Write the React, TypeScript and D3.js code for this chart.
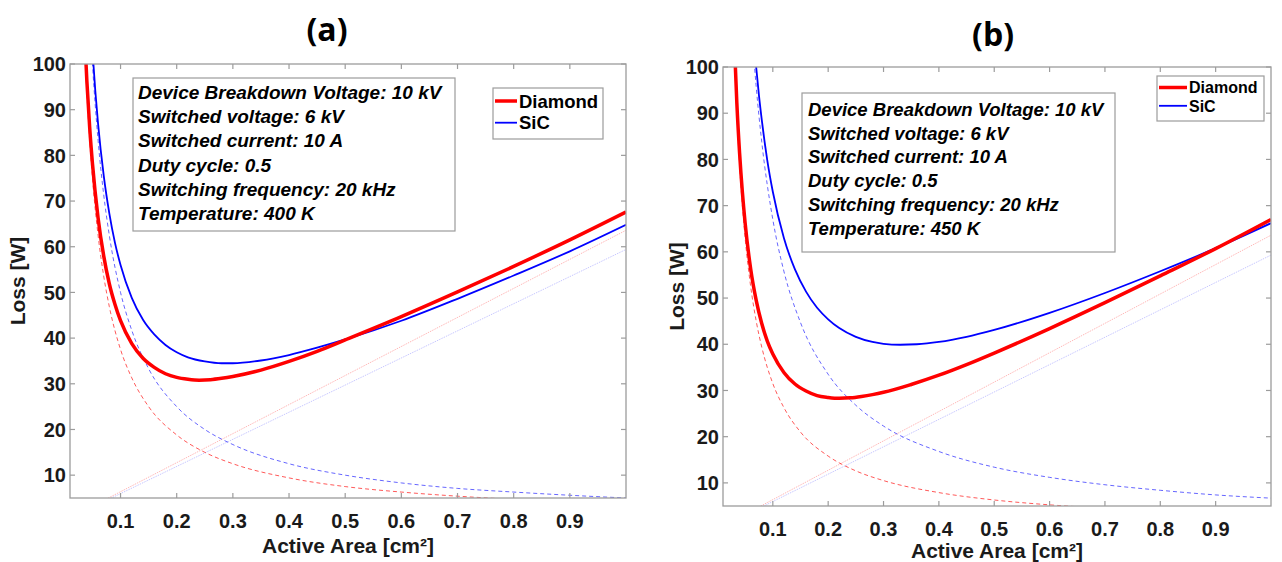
import React from 'react';
import * as d3 from 'd3';

// ---------- shared axis data ----------
const xTicks = [0.1, 0.2, 0.3, 0.4, 0.5, 0.6, 0.7, 0.8, 0.9];
const yTicks = [10, 20, 30, 40, 50, 60, 70, 80, 90, 100];
const xDomain = [0.01, 1.0];
const yDomain = [5, 100];
const legendLabels = ['Diamond', 'SiC'];
const xLabel = 'Active Area [cm²]';
const yLabel = 'Loss [W]';

// ---------- panel (a) : 400 K ----------
const aTitle = '(a)';
const aInfo = [
  'Device Breakdown Voltage: 10 kV',
  'Switched voltage: 6 kV',
  'Switched current: 10 A',
  'Duty cycle: 0.5',
  'Switching frequency: 20 kHz',
  'Temperature: 400 K',
];
const aDiamondX = [0.03, 0.035, 0.04, 0.045, 0.05, 0.06, 0.07, 0.08, 0.09, 0.1, 0.12, 0.14, 0.16, 0.18, 0.2, 0.22, 0.24, 0.26, 0.28, 0.3, 0.35, 0.4, 0.45, 0.5, 0.6, 0.7, 0.8, 0.9, 1.0];
const aDiamondTotal = [126.9, 109.3, 96.3, 86.2, 78.2, 66.3, 58.0, 51.9, 47.4, 43.8, 38.8, 35.6, 33.6, 32.2, 31.4, 31.0, 30.8, 30.9, 31.2, 31.6, 33.0, 34.9, 37.1, 39.6, 44.7, 50.1, 55.7, 61.5, 67.6];
const aSicX = [0.04, 0.045, 0.05, 0.055, 0.06, 0.07, 0.08, 0.09, 0.1, 0.12, 0.14, 0.16, 0.18, 0.2, 0.22, 0.25, 0.28, 0.3, 0.35, 0.4, 0.45, 0.5, 0.6, 0.7, 0.8, 0.9, 1.0];
const aSicTotal = [127.4, 113.8, 103.0, 94.2, 86.9, 75.6, 67.3, 60.9, 56.0, 48.8, 44.0, 40.8, 38.5, 36.9, 35.8, 34.9, 34.5, 34.5, 35.1, 36.3, 37.9, 39.7, 43.8, 48.6, 53.7, 59.0, 64.8];
const aDiamondCondX = [0.035, 0.04, 0.05, 0.06, 0.07, 0.08, 0.1, 0.12, 0.15, 0.2, 0.25, 0.3, 0.4, 0.5, 0.6, 0.7, 0.8];
const aDiamondCond = [107.1, 93.8, 75.0, 62.5, 53.6, 46.9, 37.5, 31.3, 25.0, 18.8, 15.0, 12.5, 9.4, 7.5, 6.3, 5.4, 4.7];
const aSicCondX = [0.045, 0.05, 0.06, 0.07, 0.08, 0.1, 0.12, 0.15, 0.2, 0.25, 0.3, 0.4, 0.5, 0.6, 0.7, 0.8, 0.9, 1.0];
const aSicCond = [111.1, 100, 83.3, 71.4, 62.5, 50, 41.7, 33.3, 25, 20, 16.7, 12.5, 10, 8.3, 7.1, 6.3, 5.6, 5.0];
const aSwX = [0.05, 1.0];
const aDiamondSw = [3.2, 63.6];
const aSicSw = [3.0, 59.4];

// ---------- panel (b) : 450 K ----------
const bTitle = '(b)';
const bInfo = [
  'Device Breakdown Voltage: 10 kV',
  'Switched voltage: 6 kV',
  'Switched current: 10 A',
  'Duty cycle: 0.5',
  'Switching frequency: 20 kHz',
  'Temperature: 450 K',
];
const bDiamondX = [0.028, 0.03, 0.035, 0.04, 0.045, 0.05, 0.06, 0.07, 0.08, 0.09, 0.1, 0.12, 0.14, 0.16, 0.18, 0.2, 0.22, 0.24, 0.26, 0.28, 0.3, 0.35, 0.4, 0.45, 0.5, 0.6, 0.7, 0.8, 0.9, 1.0];
const bDiamondTotal = [114.3, 106.9, 92.2, 81.3, 72.9, 66.2, 56.3, 49.5, 44.5, 40.7, 37.9, 33.9, 31.4, 29.9, 28.9, 28.5, 28.3, 28.4, 28.7, 29.1, 29.6, 31.3, 33.3, 35.6, 38.1, 43.4, 49.0, 54.8, 60.7, 67.0];
const bSicX = [0.06, 0.065, 0.07, 0.075, 0.08, 0.09, 0.1, 0.12, 0.14, 0.16, 0.18, 0.2, 0.22, 0.25, 0.28, 0.3, 0.33, 0.36, 0.4, 0.45, 0.5, 0.6, 0.7, 0.8, 0.9, 1.0];
const bSicTotal = [115.3, 107.0, 99.9, 93.8, 88.6, 79.8, 73.0, 63.0, 56.2, 51.4, 47.9, 45.4, 43.5, 41.6, 40.5, 40.1, 39.9, 40.0, 40.5, 41.6, 43.1, 46.8, 51.1, 55.8, 60.8, 66.2];
const bDiamondCondX = [0.028, 0.03, 0.035, 0.04, 0.05, 0.06, 0.07, 0.08, 0.1, 0.12, 0.15, 0.2, 0.25, 0.3, 0.4, 0.5, 0.6, 0.7];
const bDiamondCond = [112.5, 105, 90, 78.8, 63, 52.5, 45, 39.4, 31.5, 26.3, 21, 15.8, 12.6, 10.5, 7.9, 6.3, 5.25, 4.5];
const bSicCondX = [0.06, 0.065, 0.07, 0.08, 0.1, 0.12, 0.15, 0.2, 0.25, 0.3, 0.4, 0.5, 0.6, 0.7, 0.8, 0.9, 1.0];
const bSicCond = [111.7, 103.1, 95.7, 83.8, 67, 55.8, 44.7, 33.5, 26.8, 22.3, 16.8, 13.4, 11.2, 9.6, 8.4, 7.4, 6.7];
const bSwX = [0.05, 1.0];
const bDiamondSw = [3.2, 63.6];
const bSicSw = [3.0, 59.3];

const RED = '#ff0000';
const BLUE = '#0000ff';
const AXIS = '#9c9c9c';
const TXT = '#1a1a1a';
const FONT = '"Liberation Sans", Arial, Helvetica, sans-serif';

type Line = { x: number[]; y: number[]; color: string; width: number; dash?: string; opacity: number; curve?: boolean };

type PanelCfg = {
  id: string;
  title: string;
  titleX: number;
  titleY: number;
  left: number;
  right: number;
  top: number;
  bottom: number;
  info: string[];
  box: { x: number; y: number; w: number; h: number; tx: number; ty: number; dy: number; fs: number };
  legend: { x: number; y: number; w: number; h: number; l0: number; l1: number; tx: number; y0: number; dy: number; fs: number };
  yLabelX: number;
  xLabelY: number;
  xTickY: number;
  fs: number;
  lines: Line[];
};

function Panel({ cfg }: { cfg: PanelCfg }) {
  const x = d3.scaleLinear().domain(xDomain).range([cfg.left, cfg.right]);
  const y = d3.scaleLinear().domain(yDomain).range([cfg.bottom, cfg.top]);
  const tick = 5;
  const clipId = `clip-${cfg.id}`;
  return (
    <g>
      <defs>
        <clipPath id={clipId}>
          <rect x={cfg.left} y={cfg.top} width={cfg.right - cfg.left} height={cfg.bottom - cfg.top} />
        </clipPath>
      </defs>
      <text x={cfg.titleX} y={cfg.titleY} textAnchor="middle" fontFamily='"Open Sans", sans-serif' fontWeight="bold" fontSize={32} fill="#000">
        {cfg.title}
      </text>
      {/* plot lines */}
      <g clipPath={`url(#${clipId})`}>
        {cfg.lines.map((ln, i) => {
          const pts: [number, number][] = ln.x.map((v, j) => [v, ln.y[j]]);
          const gen = d3
            .line<[number, number]>()
            .x((d) => x(d[0]))
            .y((d) => y(d[1]))
            .curve(ln.curve ? d3.curveMonotoneX : d3.curveLinear);
          return (
            <path
              key={i}
              d={gen(pts) || ''}
              fill="none"
              stroke={ln.color}
              strokeWidth={ln.width}
              strokeDasharray={ln.dash}
              strokeOpacity={ln.opacity}
              strokeLinejoin="round"
            />
          );
        })}
      </g>
      {/* axes box */}
      <rect x={cfg.left} y={cfg.top} width={cfg.right - cfg.left} height={cfg.bottom - cfg.top} fill="none" stroke={AXIS} strokeWidth={1.3} />
      {xTicks.map((t) => (
        <g key={`xt${t}`}>
          <line x1={x(t)} x2={x(t)} y1={cfg.bottom} y2={cfg.bottom - tick} stroke={AXIS} strokeWidth={1.2} />
          <line x1={x(t)} x2={x(t)} y1={cfg.top} y2={cfg.top + tick} stroke={AXIS} strokeWidth={1.2} />
          <text x={x(t)} y={cfg.xTickY} textAnchor="middle" fontFamily={FONT} fontWeight="bold" fontSize={cfg.fs} fill={TXT}>
            {d3.format('.1f')(t)}
          </text>
        </g>
      ))}
      {yTicks.map((t) => (
        <g key={`yt${t}`}>
          <line x1={cfg.left} x2={cfg.left + tick} y1={y(t)} y2={y(t)} stroke={AXIS} strokeWidth={1.2} />
          <line x1={cfg.right} x2={cfg.right - tick} y1={y(t)} y2={y(t)} stroke={AXIS} strokeWidth={1.2} />
          <text x={cfg.left - 4} y={y(t)} dy="0.36em" textAnchor="end" fontFamily={FONT} fontWeight="bold" fontSize={cfg.fs} fill={TXT}>
            {t}
          </text>
        </g>
      ))}
      {/* axis labels */}
      <text x={(cfg.left + cfg.right) / 2} y={cfg.xLabelY} textAnchor="middle" fontFamily={FONT} fontWeight="bold" fontSize={21} fill={TXT}>
        {xLabel}
      </text>
      <text
        transform={`translate(${cfg.yLabelX},${(cfg.top + cfg.bottom) / 2}) rotate(-90)`}
        textAnchor="middle"
        fontFamily={FONT}
        fontWeight="bold"
        fontSize={21}
        fill={TXT}
      >
        {yLabel}
      </text>
      {/* info box */}
      <rect x={cfg.box.x} y={cfg.box.y} width={cfg.box.w} height={cfg.box.h} fill="#fff" stroke={AXIS} strokeWidth={1.2} />
      {cfg.info.map((s, i) => (
        <text
          key={`info${i}`}
          x={cfg.box.tx}
          y={cfg.box.ty + i * cfg.box.dy}
          fontFamily={FONT}
          fontWeight="bold"
          fontStyle="italic"
          fontSize={cfg.box.fs}
          fill="#000"
        >
          {s}
        </text>
      ))}
      {/* legend */}
      <rect x={cfg.legend.x} y={cfg.legend.y} width={cfg.legend.w} height={cfg.legend.h} fill="#fff" stroke={AXIS} strokeWidth={1.2} />
      {legendLabels.map((s, i) => {
        const ly = cfg.legend.y0 + i * cfg.legend.dy;
        return (
          <g key={`lg${i}`}>
            <line x1={cfg.legend.l0} x2={cfg.legend.l1} y1={ly} y2={ly} stroke={i === 0 ? RED : BLUE} strokeWidth={i === 0 ? 3.5 : 1.8} />
            <text x={cfg.legend.tx} y={ly} dy="0.36em" fontFamily={FONT} fontWeight="bold" fontSize={cfg.legend.fs} fill="#000">
              {s}
            </text>
          </g>
        );
      })}
    </g>
  );
}

function buildLines(
  dX: number[], dT: number[], sX: number[], sT: number[],
  dCX: number[], dC: number[], sCX: number[], sC: number[],
  swX: number[], dSw: number[], sSw: number[]
): Line[] {
  return [
    { x: swX, y: dSw, color: RED, width: 1, opacity: 0.28, dash: '1.5,1' },
    { x: swX, y: sSw, color: BLUE, width: 1, opacity: 0.22, dash: '1.5,1' },
    { x: dCX, y: dC, color: RED, width: 1, opacity: 0.65, dash: '4,3', curve: true },
    { x: sCX, y: sC, color: BLUE, width: 1, opacity: 0.6, dash: '4,3', curve: true },
    { x: sX, y: sT, color: BLUE, width: 1.8, opacity: 1, curve: true },
    { x: dX, y: dT, color: RED, width: 3.5, opacity: 1, curve: true },
  ];
}

const panelA: PanelCfg = {
  id: 'a',
  title: aTitle,
  titleX: 327,
  titleY: 41,
  left: 70,
  right: 626,
  top: 64,
  bottom: 498,
  info: aInfo,
  box: { x: 133, y: 78, w: 322, h: 153, tx: 138, ty: 99, dy: 24.2, fs: 19 },
  legend: { x: 493, y: 88, w: 110, h: 51, l0: 495, l1: 517, tx: 519, y0: 101, dy: 21.7, fs: 18.5 },
  yLabelX: 25,
  xLabelY: 553,
  xTickY: 528,
  fs: 20,
  lines: buildLines(aDiamondX, aDiamondTotal, aSicX, aSicTotal, aDiamondCondX, aDiamondCond, aSicCondX, aSicCond, aSwX, aDiamondSw, aSicSw),
};

const panelB: PanelCfg = {
  id: 'b',
  title: bTitle,
  titleX: 993,
  titleY: 46,
  left: 723,
  right: 1271,
  top: 67,
  bottom: 506,
  info: bInfo,
  box: { x: 802, y: 93, w: 313, h: 159, tx: 808, ty: 116, dy: 23.7, fs: 18.5 },
  legend: { x: 1157, y: 76, w: 107, h: 45, l0: 1159, l1: 1187, tx: 1189, y0: 87.5, dy: 18.3, fs: 16 },
  yLabelX: 684,
  xLabelY: 558,
  xTickY: 536,
  fs: 20,
  lines: buildLines(bDiamondX, bDiamondTotal, bSicX, bSicTotal, bDiamondCondX, bDiamondCond, bSicCondX, bSicCond, bSwX, bDiamondSw, bSicSw),
};

export default function App() {
  return (
    <svg
      width={1282}
      height={562}
      viewBox="0 0 1282 562"
      style={{ position: 'absolute', left: 0, top: 0, background: '#fff' }}
    >
      <rect x={0} y={0} width={1282} height={562} fill="#fff" />
      <Panel cfg={panelA} />
      <Panel cfg={panelB} />
    </svg>
  );
}
